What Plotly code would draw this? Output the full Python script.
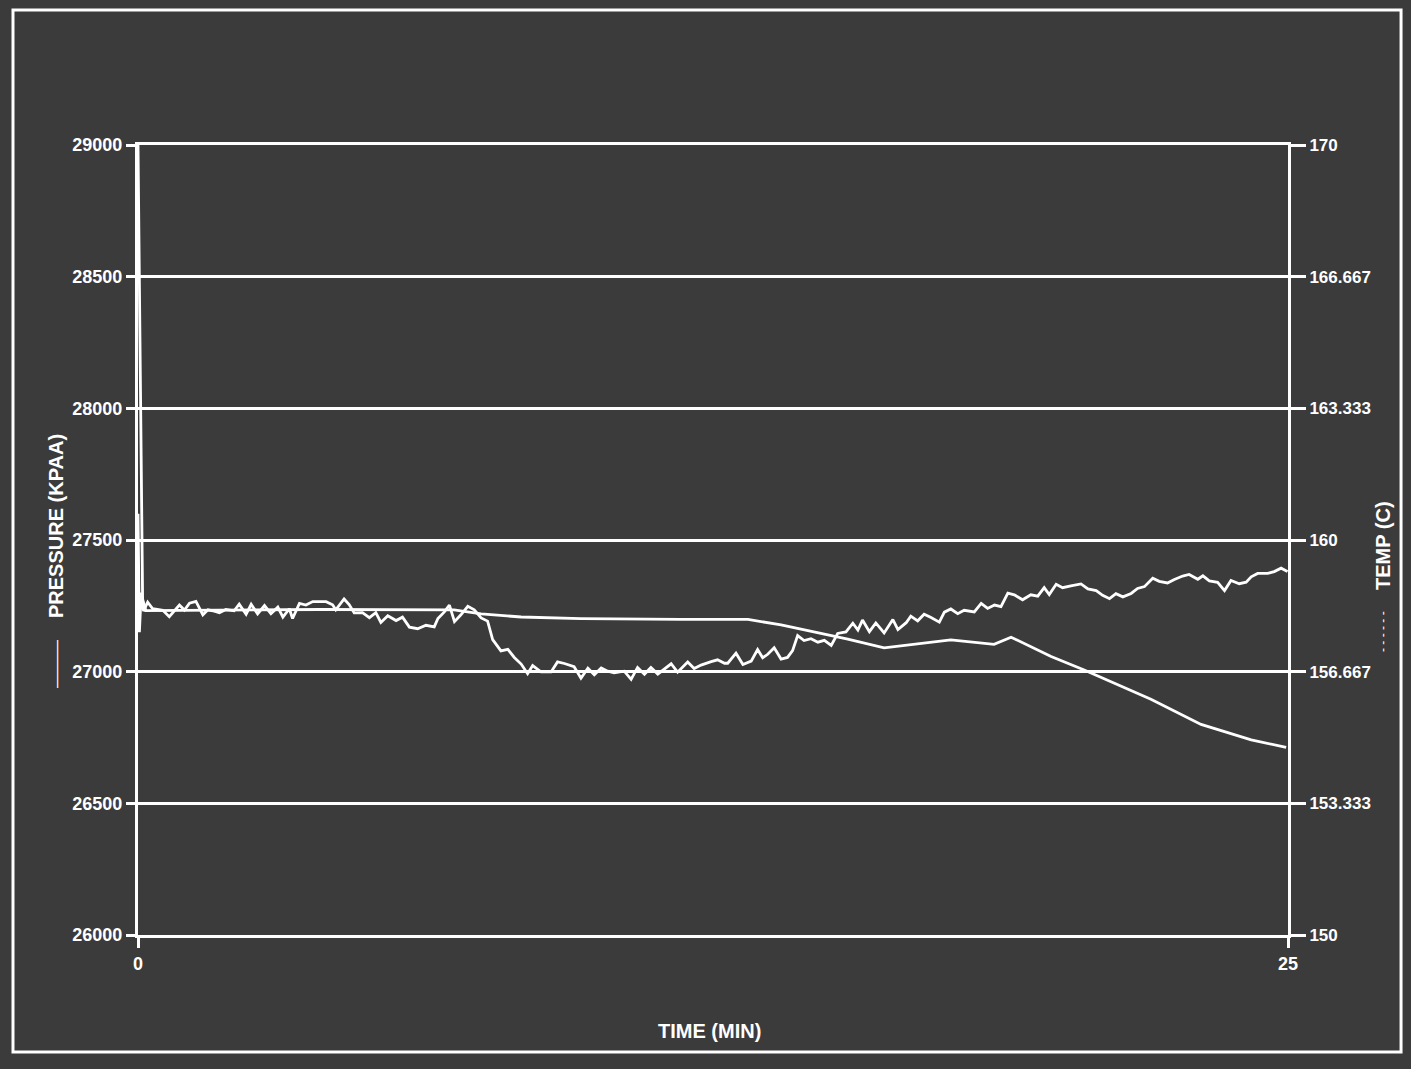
import plotly.graph_objects as go

# ---------------- data ----------------
time_pressure = [0.0, 0.03, 0.07, 0.12, 0.21, 0.32, 0.54, 0.68, 0.90, 1.01, 1.12, 1.26, 1.41, 1.52,
                 1.66, 1.77, 1.91, 2.09, 2.20, 2.35, 2.46, 2.60, 2.75, 2.89, 3.04, 3.15, 3.29, 3.36,
                 3.51, 3.65, 3.80, 4.09, 4.23, 4.30, 4.48, 4.59, 4.70, 4.88, 5.03, 5.17, 5.28, 5.43,
                 5.61, 5.75, 5.90, 6.08, 6.26, 6.44, 6.52, 6.66, 6.77, 6.88, 7.02, 7.17, 7.31, 7.46,
                 7.60, 7.71, 7.89, 8.04, 8.18, 8.33, 8.47, 8.58, 8.76, 8.98, 9.12, 9.27, 9.48, 9.63,
                 9.78, 9.92, 10.07, 10.21, 10.35, 10.57, 10.72, 10.86, 11.01, 11.15, 11.30, 11.44,
                 11.59, 11.73, 11.95, 12.09, 12.24, 12.46, 12.60, 12.75, 12.82, 13.00, 13.15, 13.33,
                 13.47, 13.58, 13.69, 13.83, 13.98, 14.12, 14.23, 14.34, 14.48, 14.63, 14.78, 14.92,
                 15.07, 15.21, 15.39, 15.54, 15.65, 15.75, 15.90, 16.04, 16.22, 16.41, 16.52, 16.70,
                 16.80, 16.95, 17.09, 17.24, 17.42, 17.53, 17.67, 17.82, 17.96, 18.18, 18.33, 18.47,
                 18.62, 18.76, 18.91, 19.05, 19.23, 19.41, 19.56, 19.70, 19.81, 19.96, 20.10, 20.28,
                 20.50, 20.65, 20.83, 20.97, 21.12, 21.26, 21.41, 21.59, 21.73, 21.88, 22.06, 22.20,
                 22.38, 22.53, 22.71, 22.85, 23.04, 23.15, 23.29, 23.47, 23.62, 23.76, 23.94, 24.09,
                 24.20, 24.34, 24.56, 24.70, 24.85, 24.99]
pressure_kpaa = [27600, 27150, 27300, 27230, 27264, 27239, 27233, 27209, 27253, 27234, 27260, 27267,
                 27216, 27235, 27230, 27224, 27236, 27231, 27256, 27218, 27256, 27219, 27251, 27220,
                 27245, 27207, 27239, 27202, 27259, 27253, 27266, 27266, 27254, 27235, 27276, 27255,
                 27223, 27224, 27205, 27224, 27187, 27212, 27194, 27207, 27169, 27163, 27176, 27170,
                 27202, 27227, 27253, 27190, 27216, 27248, 27235, 27204, 27192, 27122, 27079, 27085,
                 27054, 27029, 26992, 27023, 26999, 26999, 27037, 27031, 27019, 26975, 27013, 26988,
                 27014, 27002, 26996, 27002, 26971, 27016, 26990, 27016, 26991, 27010, 27030, 26998,
                 27037, 27012, 27025, 27038, 27045, 27032, 27032, 27070, 27027, 27040, 27084, 27053,
                 27066, 27091, 27048, 27054, 27080, 27137, 27118, 27125, 27112, 27119, 27100, 27145,
                 27151, 27184, 27158, 27196, 27152, 27185, 27147, 27198, 27160, 27186, 27211, 27193,
                 27218, 27206, 27188, 27226, 27238, 27220, 27233, 27227, 27259, 27240, 27253, 27247,
                 27298, 27292, 27273, 27292, 27287, 27319, 27293, 27332, 27319, 27326, 27333, 27314,
                 27308, 27290, 27277, 27296, 27284, 27297, 27316, 27323, 27355, 27343, 27337, 27350,
                 27363, 27369, 27351, 27364, 27345, 27339, 27308, 27346, 27334, 27340, 27360, 27373,
                 27373, 27380, 27393, 27380]

time_temp = [0.0, 0.10, 0.17, 3.98, 6.87, 7.46, 8.33, 9.63, 11.80, 13.26, 13.98, 14.70, 15.43,
             16.22, 17.67, 18.61, 18.98, 19.85, 20.57, 22.02, 23.11, 24.20, 24.96]
temp_c = [170.0, 158.5, 158.21, 158.24, 158.23, 158.13, 158.05, 158.01, 157.99, 157.99, 157.85,
          157.68, 157.49, 157.27, 157.47, 157.36, 157.54, 157.05, 156.71, 155.97, 155.33, 154.94,
          154.75]

time_ticks = [0, 25]
time_tick_text = ["0", "25"]
pressure_ticks = [26000, 26500, 27000, 27500, 28000, 28500, 29000]
pressure_tick_text = ["26000", "26500", "27000", "27500", "28000", "28500", "29000"]
temp_ticks = [150, 153.333, 156.667, 160, 163.333, 166.667, 170]
temp_tick_text = ["150", "153.333", "156.667", "160", "163.333", "166.667", "170"]

# ---------------- style ----------------
BG = "#3b3b3b"
FG = "white"
FONT = "Liberation Sans, Arial, sans-serif"

fig = go.Figure()
fig.add_trace(go.Scatter(x=time_pressure, y=pressure_kpaa, mode="lines", name="PRESSURE (KPAA)",
                         line=dict(color=FG, width=2.8), yaxis="y"))
fig.add_trace(go.Scatter(x=time_temp, y=temp_c, mode="lines", name="TEMP (C)",
                         line=dict(color=FG, width=2.8), yaxis="y2"))

tickfont = dict(family=FONT, size=18, color=FG, weight="bold")

fig.update_layout(
    width=1411, height=1069,
    margin=dict(l=138, r=123, t=145, b=134),
    paper_bgcolor=BG, plot_bgcolor=BG,
    showlegend=False,
    xaxis=dict(range=[0, 25], tickvals=time_ticks, ticktext=time_tick_text,
               showgrid=False, zeroline=False, showline=True, mirror=True,
               linecolor=FG, linewidth=3, ticks="outside", ticklen=10, tickwidth=3,
               tickcolor=FG, tickfont=tickfont),
    yaxis=dict(range=[26000, 29000], tickvals=pressure_ticks, ticktext=pressure_tick_text,
               showgrid=True, gridcolor=FG, gridwidth=3, zeroline=False,
               showline=True, linecolor=FG, linewidth=3,
               ticks="outside", ticklen=9, tickwidth=3, tickcolor=FG,
               tickfont=tickfont),
    yaxis2=dict(range=[150, 170], tickvals=temp_ticks, ticktext=temp_tick_text,
                overlaying="y", side="right", showgrid=False, zeroline=False,
                showline=True, linecolor=FG, linewidth=3,
                ticks="outside", ticklen=15, tickwidth=3, tickcolor=FG,
                tickfont=dict(family=FONT, size=17, color=FG, weight="bold")),
)

title_font = dict(family=FONT, size=20, color=FG, weight="bold")
fig.add_annotation(text="PRESSURE (KPAA)", textangle=-90, xref="paper", yref="paper",
                   x=-0.0713, y=0.5177, showarrow=False, font=title_font,
                   xanchor="center", yanchor="middle")
fig.add_annotation(text="———", textangle=-90, xref="paper", yref="paper",
                   x=-0.0713, y=0.343, showarrow=False,
                   font=dict(family=FONT, size=16, color=FG), xanchor="center", yanchor="middle")
fig.add_annotation(text="TEMP (C)", textangle=-90, xref="paper", yref="paper",
                   x=1.0826, y=0.4937, showarrow=False, font=title_font,
                   xanchor="center", yanchor="middle")
fig.add_annotation(text="- - - - - -", textangle=-90, xref="paper", yref="paper",
                   x=1.0826, y=0.3848, showarrow=False,
                   font=dict(family=FONT, size=12, color=FG), xanchor="center", yanchor="middle")
fig.add_annotation(text="TIME (MIN)", xref="paper", yref="paper",
                   x=0.497, y=-0.122, showarrow=False, font=title_font,
                   xanchor="center", yanchor="middle")

# photographic frame around the chart
fig.add_shape(type="rect", xref="paper", yref="paper",
              x0=-0.1087, x1=1.0983, y0=-0.1481, y1=1.1709,
              line=dict(color=FG, width=3), layer="below")

fig.write_html(
    "out.html",
    config={"displayModeBar": False},
    post_script=(
        "document.documentElement.style.margin='0';"
        "document.documentElement.style.background='#3b3b3b';"
        "document.body.style.margin='0';"
        "document.body.style.background='#3b3b3b';"
        "document.body.style.overflow='hidden';"
    ),
)
